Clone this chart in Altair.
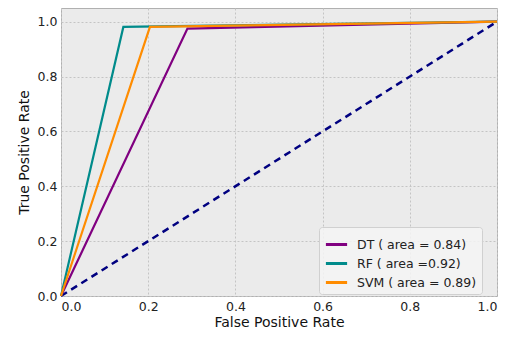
import altair as alt
import pandas as pd

series = ["DT ( area = 0.84)", "RF ( area =0.92)", "SVM ( area = 0.89)"]
colors = ["#800080", "#008b8b", "#ff8c00"]
dt_fpr = [0.0, 0.29, 1.0]
dt_tpr = [0.0, 0.975, 1.0]
rf_fpr = [0.0, 0.143, 1.0]
rf_tpr = [0.0, 0.981, 1.0]
svm_fpr = [0.0, 0.204, 1.0]
svm_tpr = [0.0, 0.981, 1.0]
diag_fpr = [0.0, 1.0]
diag_tpr = [0.0, 1.0]

rows = []
for name, xs, ys in zip(series, [dt_fpr, rf_fpr, svm_fpr], [dt_tpr, rf_tpr, svm_tpr]):
    for i, (x, y) in enumerate(zip(xs, ys)):
        rows.append({"series": name, "fpr": x, "tpr": y, "order": i})
df = pd.DataFrame(rows)
diag = pd.DataFrame({"fpr": diag_fpr, "tpr": diag_tpr})

font = "DejaVu Sans"
xscale = alt.Scale(domain=[0, 1], nice=False, zero=False)
yscale = alt.Scale(domain=[0, 1.05], nice=False, zero=False)

common = dict(format=".1f", values=[0, 0.2, 0.4, 0.6, 0.8, 1.0],
              grid=True, gridDash=[2, 2], gridColor="#c4c4c4", tickSize=0, labelPadding=4,
              labelFontSize=12.5, titleFontSize=14, titleFontWeight="normal", labelColor="#222",
              titleColor="#111", domain=False, labelFont=font, titleFont=font)
xaxis = alt.Axis(title="False Positive Rate", titlePadding=3, **common)
yaxis = alt.Axis(title="True Positive Rate", titlePadding=6, **common)

diag_line = alt.Chart(diag).mark_line(color="#000080", strokeDash=[7, 5], strokeWidth=2.5).encode(
    x=alt.X("fpr:Q", scale=xscale, axis=xaxis),
    y=alt.Y("tpr:Q", scale=yscale, axis=yaxis),
)

lines = alt.Chart(df).mark_line(strokeWidth=2.2).encode(
    x=alt.X("fpr:Q", scale=xscale),
    y=alt.Y("tpr:Q", scale=yscale),
    order="order:Q",
    color=alt.Color("series:N", sort=series,
                    scale=alt.Scale(domain=series, range=colors),
                    legend=alt.Legend(title=None, orient="none", legendX=258, legendY=219,
                                      symbolType="stroke", symbolStrokeWidth=3, symbolSize=450,
                                      labelFontSize=12.5, labelFont=font, labelColor="#222",
                                      labelOffset=8,
                                      fillColor="rgba(245,245,245,0.85)", strokeColor="#d0d0d0",
                                      padding=5, rowPadding=0, cornerRadius=3)),
)

chart = alt.layer(diag_line, lines).properties(
    width=436, height=288,
    autosize=alt.AutoSizeParams(type="none"),
    padding={"left": 53, "top": 0, "right": 3, "bottom": 36},
).configure_view(
    fill="#ebebeb", stroke="#b0b0b0", strokeWidth=1
)

chart.save("out.html", embed_options={"renderer": "svg", "actions": False})
